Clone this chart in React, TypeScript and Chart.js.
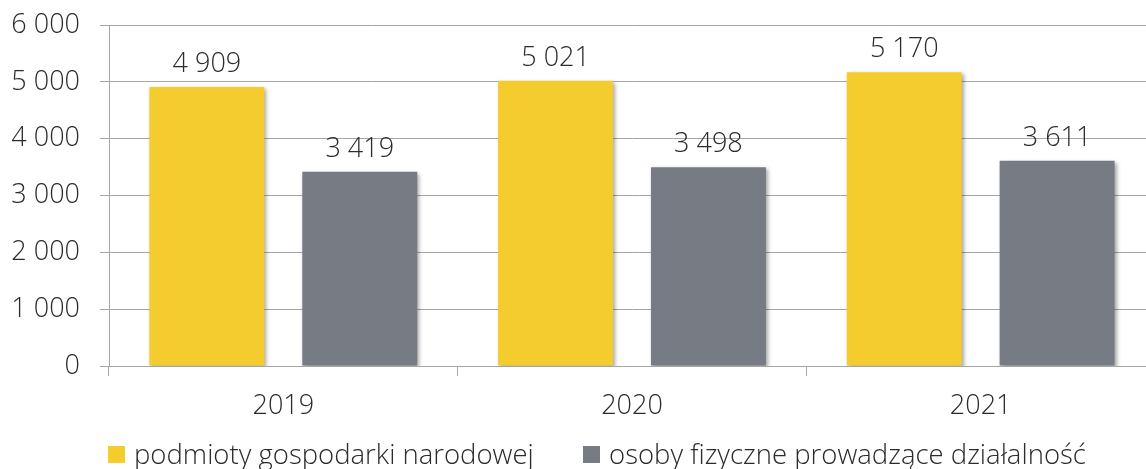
import React, { useEffect, useRef } from 'react';
import { Chart, registerables } from 'chart.js';

Chart.register(...registerables);

const categories = ['2019', '2020', '2021'];
const seriesLabels = ['podmioty gospodarki narodowej', 'osoby fizyczne prowadzące działalność'];
const podmioty = [4909, 5021, 5170];
const osoby = [3419, 3498, 3611];
const yMin = 0;
const yMax = 6000;
const yStep = 1000;
const colors = ['#F4CC2E', '#777B84'];

const FONT = '"Open Sans", "Noto Sans", "DejaVu Sans", sans-serif';
const WEIGHT = 300;
const SIZE = 27;
const TEXT = '#2b2b2b';
const GRID = '#a6a6a6';

const fmt = (v: number) => String(v).replace(/\B(?=(\d{3})+(?!\d))/g, ' ');

const barDecor = {
  id: 'barDecor',
  beforeDatasetsDraw(chart: any) {
    const c = chart.ctx;
    c.save();
    c.shadowColor = 'rgba(0,0,0,0.35)';
    c.shadowBlur = 4;
    c.shadowOffsetX = 2;
    c.shadowOffsetY = 2;
  },
  afterDatasetsDraw(chart: any) {
    const c = chart.ctx;
    c.restore();
    c.save();
    c.font = `${WEIGHT} ${SIZE}px ${FONT}`;
    c.fillStyle = TEXT;
    c.textAlign = 'center';
    c.textBaseline = 'alphabetic';
    chart.data.datasets.forEach((ds: any, i: number) => {
      const meta = chart.getDatasetMeta(i);
      meta.data.forEach((el: any, j: number) => {
        c.fillText(fmt(ds.data[j]), el.x, el.y - 15);
      });
    });
    c.restore();
  },
};

export default function App() {
  const ref = useRef<HTMLCanvasElement | null>(null);

  useEffect(() => {
    if (!ref.current) return;
    const chart = new Chart(ref.current, {
      type: 'bar',
      data: {
        labels: categories,
        datasets: [
          {
            label: seriesLabels[0],
            data: podmioty,
            backgroundColor: colors[0],
            borderWidth: 0,
            categoryPercentage: 0.877,
            barPercentage: 0.752,
          },
          {
            label: seriesLabels[1],
            data: osoby,
            backgroundColor: colors[1],
            borderWidth: 0,
            categoryPercentage: 0.877,
            barPercentage: 0.752,
          },
        ],
      },
      options: {
        responsive: false,
        maintainAspectRatio: false,
        animation: false,
        layout: { padding: { top: 25, right: 5, bottom: 43, left: 0 } },
        plugins: {
          legend: { display: false },
          tooltip: { enabled: false },
        },
        scales: {
          x: {
            grid: {
              drawOnChartArea: false,
              drawTicks: true,
              tickLength: 10,
              color: GRID,
              offset: true,
            },
            border: { display: true, color: GRID },
            ticks: {
              color: TEXT,
              font: { family: FONT, size: SIZE, weight: WEIGHT as any },
              padding: 14,
            },
            afterFit: (s: any) => {
              s.height = 60;
            },
          },
          y: {
            min: yMin,
            max: yMax,
            ticks: {
              stepSize: yStep,
              color: TEXT,
              font: { family: FONT, size: SIZE, weight: WEIGHT as any },
              padding: 20,
              callback: (v: any) => fmt(Number(v)),
            },
            grid: { color: GRID, tickLength: 9 },
            border: { display: true, color: GRID },
            afterFit: (s: any) => {
              s.width = 109;
              s.paddingTop = 10;
              s.paddingBottom = 10;
            },
          },
        },
      },
      plugins: [barDecor],
    });
    return () => chart.destroy();
  }, []);

  return (
    <div
      style={{
        position: 'fixed',
        left: 0,
        top: 0,
        width: 1146,
        height: 469,
        overflow: 'hidden',
        background: '#fff',
      }}
    >
      <div style={{ position: 'relative', width: 1160, height: 469 }}>
        <canvas ref={ref} width={1160} height={469} style={{ display: 'block' }} />
        <div
          style={{
            position: 'absolute',
            left: 0,
            top: 440,
            width: 1146,
            height: 28,
            fontFamily: FONT,
            fontWeight: WEIGHT,
            fontSize: 27.5,
            lineHeight: '28px',
            color: TEXT,
          }}
        >
          {seriesLabels.map((l, i) => (
            <div
              key={l}
              style={{
                position: 'absolute',
                left: i === 0 ? 108 : 583,
                top: 0,
                display: 'flex',
                alignItems: 'center',
                whiteSpace: 'nowrap',
                height: 28,
              }}
            >
              <span
                style={{
                  display: 'inline-block',
                  width: 17,
                  height: 17,
                  background: colors[i],
                  marginRight: 9,
                }}
              />
              {l}
            </div>
          ))}
        </div>
      </div>
    </div>
  );
}
